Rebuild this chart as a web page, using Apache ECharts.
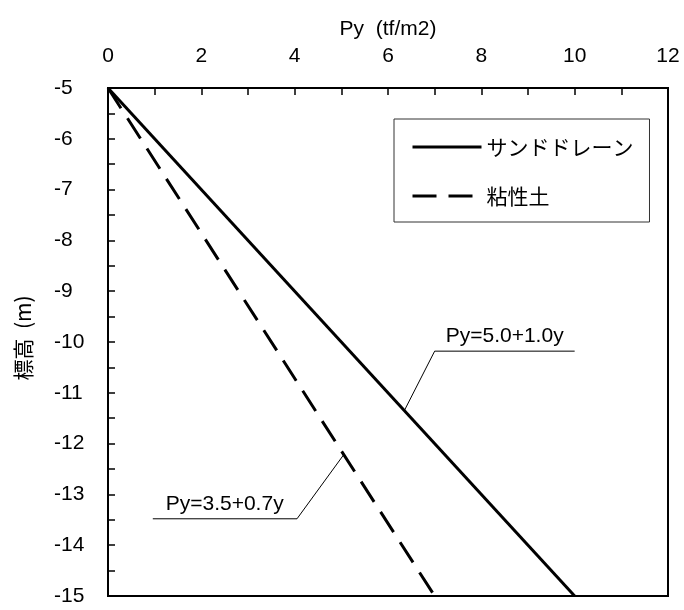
<!DOCTYPE html>
<html>
<head>
<meta charset="utf-8">
<script src="https://cdn.jsdelivr.net/npm/echarts@6/dist/echarts.min.js"></script>
<style>html,body{margin:0;padding:0;background:#fff;}#c{width:684px;height:610px;}</style>
</head>
<body>
<div id="c"></div>
<script>
// Data
const depth = [-5, -15];
const sandPy = [0, 10];
const clayPy = [0, 7];
const seriesNames = ['サンドドレーン', '粘性土'];
const sandLeader = [[6.35, -11.35], [7.0, -10.18], [10.0, -10.18]];
const clayLeader = [[5.05, -12.22], [4.05, -13.48], [0.96, -13.48]];
const sandLabelPos = [8.5, -10.18];
const clayLabelPos = [2.5, -13.48];
const sandLabel = 'Py=5.0+1.0y';
const clayLabel = 'Py=3.5+0.7y';
const xName = 'Py  (tf/m2)';
const yName = '標高  (m)';

const LAT = "'Liberation Sans', Arial, sans-serif";
const CJK = "'Noto Sans CJK JP', 'Liberation Sans', sans-serif";

const pairs = (xs, ys) => xs.map((x, i) => [x, ys[i]]);

const chart = echarts.init(document.getElementById('c'), null, {renderer: 'canvas'});
chart.setOption({
  backgroundColor: '#fff',
  animation: false,
  grid: {left: 108, right: 16, top: 88, bottom: 14, show: true, borderColor: '#000', borderWidth: 2, backgroundColor: 'transparent'},
  legend: {
    orient: 'vertical', left: 394, top: 119,
    padding: [16, 16, 14, 17],
    borderColor: '#333', borderWidth: 1,
    itemWidth: 69, itemHeight: 14, itemGap: 25,
    data: seriesNames,
    itemStyle: {opacity: 0},
    lineStyle: {width: 3, color: '#000'},
    textStyle: {fontFamily: CJK, fontSize: 21, lineHeight: 24, color: '#000'}
  },
  xAxis: {
    type: 'value', position: 'top', min: 0, max: 12, interval: 2,
    name: xName, nameLocation: 'middle', nameGap: 48,
    nameTextStyle: {fontFamily: LAT, fontSize: 21, color: '#000'},
    axisLine: {show: true, lineStyle: {color: '#000', width: 2}},
    axisTick: {show: true, inside: true, length: 7, lineStyle: {color: '#000', width: 1.5}},
    minorTick: {show: true, splitNumber: 2, length: 7, lineStyle: {color: '#000', width: 1.5}},
    axisLabel: {fontFamily: LAT, fontSize: 21, color: '#000', margin: 21},
    splitLine: {show: false}
  },
  yAxis: {
    type: 'value', min: -15, max: -5, interval: 1,
    name: yName, nameLocation: 'middle', nameGap: 74, nameRotate: 90,
    nameTextStyle: {fontFamily: CJK, fontSize: 21, color: '#000', padding: [0, 0, 0, 8]},
    axisLine: {show: true, lineStyle: {color: '#000', width: 2}},
    axisTick: {show: true, inside: true, length: 7, lineStyle: {color: '#000', width: 1.5}},
    minorTick: {show: true, splitNumber: 2, length: 7, lineStyle: {color: '#000', width: 1.5}},
    axisLabel: {fontFamily: LAT, fontSize: 21, color: '#000', align: 'left', margin: 54},
    splitLine: {show: false}
  },
  series: [
    {
      name: seriesNames[0], type: 'line', symbol: 'none',
      data: pairs(sandPy, depth),
      lineStyle: {color: '#000', width: 3, type: 'solid'},
      itemStyle: {color: '#000'}
    },
    {
      name: seriesNames[1], type: 'line', symbol: 'none',
      data: pairs(clayPy, depth),
      lineStyle: {color: '#000', width: 3, type: [24, 12]},
      itemStyle: {color: '#000'}
    },
    {
      type: 'line', symbol: 'none', silent: true,
      data: sandLeader,
      lineStyle: {color: '#000', width: 1}
    },
    {
      type: 'line', symbol: 'none', silent: true,
      data: clayLeader,
      lineStyle: {color: '#000', width: 1}
    },
    {
      type: 'scatter', symbolSize: 0, silent: true,
      itemStyle: {color: '#000', opacity: 1},
      data: [
        {value: sandLabelPos, label: {formatter: sandLabel}},
        {value: clayLabelPos, label: {formatter: clayLabel}}
      ],
      label: {show: true, position: 'top', distance: 4, fontFamily: LAT, fontSize: 21, color: '#000', opacity: 1}
    }
  ]
});
</script>
</body>
</html>
